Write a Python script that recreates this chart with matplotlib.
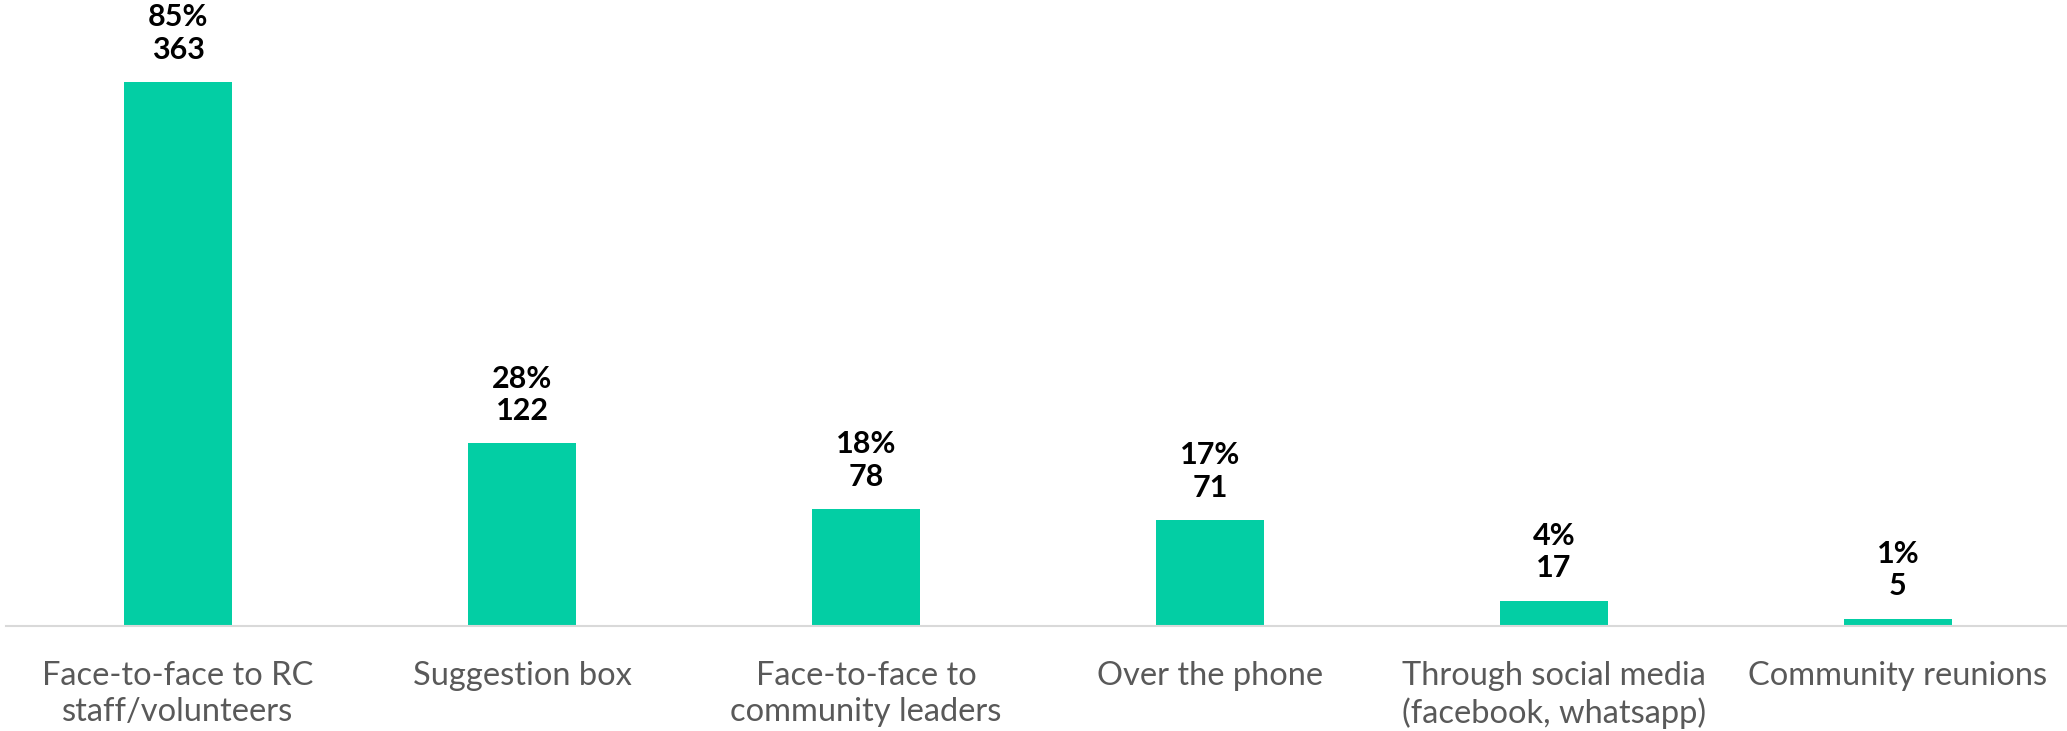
import matplotlib.pyplot as plt

# Channels used to give feedback, with share of respondents and counts
channels = [
    "Face-to-face to RC\nstaff/volunteers",
    "Suggestion box",
    "Face-to-face to\ncommunity leaders",
    "Over the phone",
    "Through social media\n(facebook, whatsapp)",
    "Community reunions",
]
percents = [85, 28, 18, 17, 4, 1]
counts = [363, 122, 78, 71, 17, 5]

bar_color = "#03CEA4"
label_color = "#595959"

plt.rcParams['font.family'] = ['Lato', 'DejaVu Sans']

fig = plt.figure(figsize=(20.67, 7.31), dpi=100)
ax = fig.add_axes([6 / 2067, 105 / 731, 2064 / 2067, 626 / 731])

x = list(range(len(channels)))
bars = ax.bar(x, counts, width=0.315, color=bar_color)

ax.set_xlim(-0.5, 5.5)
ax.set_ylim(0, 363 * 626 / 544)

# value labels: percentage above count
for rect, pct, n in zip(bars, percents, counts):
    ax.annotate(f"{pct}%\n{n}",
                xy=(rect.get_x() + rect.get_width() / 2, rect.get_height()),
                xytext=(0, 13), textcoords="offset points",
                ha="center", va="bottom", fontsize=22, fontweight="bold",
                color="black", linespacing=1.2)

ax.set_xticks(x)
ax.set_xticklabels(channels, fontsize=23.5, color=label_color, linespacing=1.25)
ax.tick_params(axis="x", length=0, pad=25)
ax.set_yticks([])

for side in ["top", "right", "left"]:
    ax.spines[side].set_visible(False)
ax.spines["bottom"].set_color("#d9d9d9")
ax.spines["bottom"].set_linewidth(1.5)

fig.savefig("out.png", dpi=100)
